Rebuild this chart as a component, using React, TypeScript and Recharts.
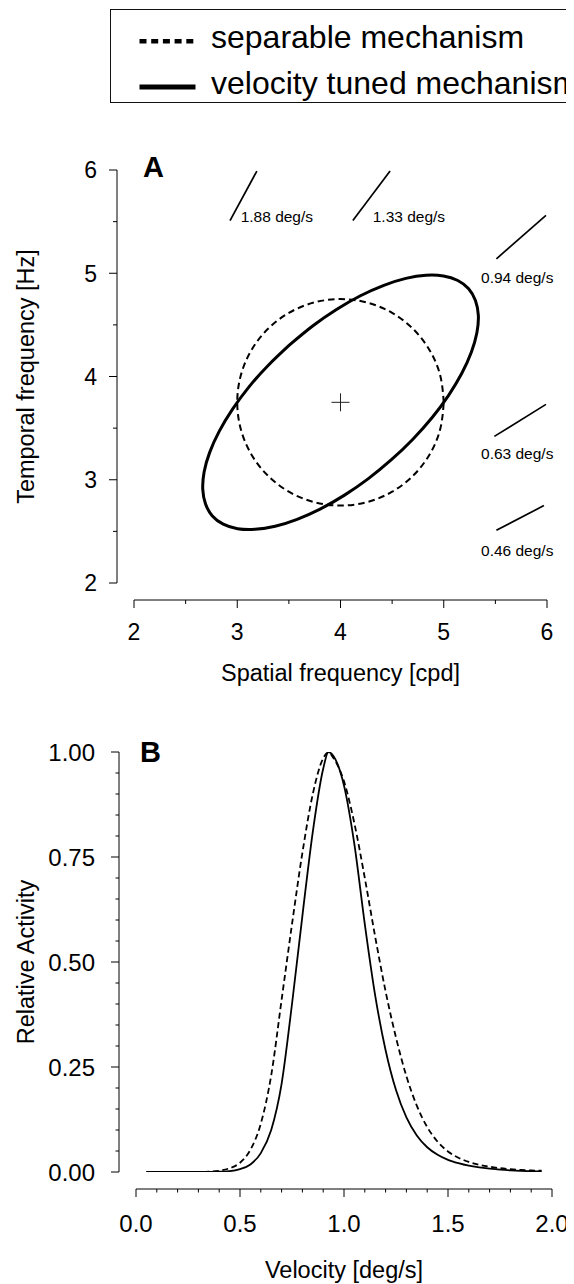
import React from 'react';
import {
  ComposedChart,
  Line,
  Scatter,
  XAxis,
  YAxis,
  ReferenceLine,
  ReferenceDot,
  Legend,
  Customized,
} from 'recharts';

const FONT = '"Liberation Sans", Arial, Helvetica, sans-serif';

// ---------- Panel A data ----------
const separableContour = [
  { x: 5.0, y: 3.75 }, { x: 4.966, y: 4.009 }, { x: 4.866, y: 4.25 }, { x: 4.707, y: 4.457 },
  { x: 4.5, y: 4.616 }, { x: 4.259, y: 4.716 }, { x: 4.0, y: 4.75 }, { x: 3.741, y: 4.716 },
  { x: 3.5, y: 4.616 }, { x: 3.293, y: 4.457 }, { x: 3.134, y: 4.25 }, { x: 3.034, y: 4.009 },
  { x: 3.0, y: 3.75 }, { x: 3.034, y: 3.491 }, { x: 3.134, y: 3.25 }, { x: 3.293, y: 3.043 },
  { x: 3.5, y: 2.884 }, { x: 3.741, y: 2.784 }, { x: 4.0, y: 2.75 }, { x: 4.259, y: 2.784 },
  { x: 4.5, y: 2.884 }, { x: 4.707, y: 3.043 }, { x: 4.866, y: 3.25 }, { x: 4.966, y: 3.491 },
  { x: 5.0, y: 3.75 },
];

const velocityTunedContour = [
  { x: 3.507, y: 4.306 }, { x: 3.299, y: 4.107 }, { x: 3.112, y: 3.897 }, { x: 2.953, y: 3.682 },
  { x: 2.825, y: 3.469 }, { x: 2.733, y: 3.265 }, { x: 2.679, y: 3.076 }, { x: 2.666, y: 2.907 },
  { x: 2.693, y: 2.764 }, { x: 2.759, y: 2.65 }, { x: 2.864, y: 2.57 }, { x: 3.003, y: 2.526 },
  { x: 3.172, y: 2.52 }, { x: 3.367, y: 2.55 }, { x: 3.58, y: 2.617 }, { x: 3.807, y: 2.718 },
  { x: 4.039, y: 2.851 }, { x: 4.27, y: 3.011 }, { x: 4.493, y: 3.194 }, { x: 4.701, y: 3.393 },
  { x: 4.888, y: 3.603 }, { x: 5.047, y: 3.818 }, { x: 5.175, y: 4.031 }, { x: 5.267, y: 4.235 },
  { x: 5.321, y: 4.424 }, { x: 5.335, y: 4.593 }, { x: 5.307, y: 4.736 }, { x: 5.241, y: 4.85 },
  { x: 5.136, y: 4.93 }, { x: 4.997, y: 4.974 }, { x: 4.828, y: 4.981 }, { x: 4.633, y: 4.95 },
  { x: 4.42, y: 4.883 }, { x: 4.193, y: 4.782 }, { x: 3.961, y: 4.649 }, { x: 3.73, y: 4.489 },
  { x: 3.507, y: 4.306 },
];

const preferredPoint = [{ x: 4.0, y: 3.75 }];

const velocityLabels = ['1.88 deg/s', '1.33 deg/s', '0.94 deg/s', '0.63 deg/s', '0.46 deg/s'];
const velocitySegments = [
  { x1: 2.93, y1: 5.51, x2: 3.19, y2: 5.99 },
  { x1: 4.12, y1: 5.51, x2: 4.48, y2: 5.99 },
  { x1: 5.51, y1: 5.14, x2: 5.99, y2: 5.56 },
  { x1: 5.49, y1: 3.42, x2: 5.99, y2: 3.73 },
  { x1: 5.51, y1: 2.51, x2: 5.97, y2: 2.75 },
];
const velocityLabelAnchors = [
  { x: 3.033, y: 5.499 },
  { x: 4.312, y: 5.493 },
  { x: 5.361, y: 4.908 },
  { x: 5.361, y: 3.198 },
  { x: 5.361, y: 2.262 },
];

const sfTicks = [2, 2.5, 3, 3.5, 4, 4.5, 5, 5.5, 6];
const tfTicks = [2, 2.5, 3, 3.5, 4, 4.5, 5, 5.5, 6];

// ---------- Panel B data ----------
const velocities = [
  0.05, 0.1, 0.15, 0.2, 0.25, 0.3, 0.35, 0.4, 0.45, 0.5, 0.55, 0.6, 0.65, 0.7, 0.75, 0.8, 0.85,
  0.9, 0.925, 0.95, 1.0, 1.05, 1.1, 1.15, 1.2, 1.25, 1.3, 1.35, 1.4, 1.45, 1.5, 1.55, 1.6, 1.65,
  1.7, 1.75, 1.8, 1.85, 1.9, 1.95,
];
const tunedActivity = [
  0, 0, 0, 0, 0, 0, 0, 0.0008, 0.002, 0.007, 0.018, 0.045, 0.1, 0.21, 0.4, 0.61, 0.81,
  0.96, 1.0, 0.99, 0.92, 0.78, 0.59, 0.42, 0.29, 0.195, 0.13, 0.087, 0.059, 0.041, 0.029, 0.021, 0.015,
  0.011, 0.008, 0.0055, 0.0038, 0.0026, 0.0018, 0.0012,
];
const separableActivity = [
  0, 0, 0, 0, 0, 0, 0.001, 0.003, 0.009, 0.022, 0.053, 0.115, 0.23, 0.41, 0.59, 0.76, 0.9,
  0.985, 0.999, 0.985, 0.93, 0.83, 0.7, 0.56, 0.43, 0.32, 0.228, 0.158, 0.107, 0.072, 0.049, 0.034, 0.024,
  0.017, 0.0125, 0.0092, 0.0068, 0.005, 0.0038, 0.003,
];
const velocityTicks = [
  0, 0.1, 0.2, 0.3, 0.4, 0.5, 0.6, 0.7, 0.8, 0.9, 1.0, 1.1, 1.2, 1.3, 1.4, 1.5, 1.6, 1.7, 1.8, 1.9, 2.0,
];
const activityTicks = [
  0, 0.05, 0.1, 0.15, 0.2, 0.25, 0.3, 0.35, 0.4, 0.45, 0.5, 0.55, 0.6, 0.65, 0.7, 0.75, 0.8, 0.85,
  0.9, 0.95, 1.0,
];

const SERIES_NAMES = { separable: 'separable mechanism', tuned: 'velocity tuned mechanism' };

const activityData = velocities.map((v, i) => ({
  v,
  sep: separableActivity[i],
  tuned: tunedActivity[i],
}));

const isMultiple = (v: number, step: number) => Math.abs(v / step - Math.round(v / step)) < 1e-6;

const makeYTick = (step: number, fmt: (v: number) => string, gap: number, minorLen: number, fs: number) => (props: any) => {
  const { x, y, payload } = props;
  const v = payload.value;
  const major = isMultiple(v, step);
  const len = major ? 8 : minorLen;
  return (
    <g>
      <line x1={x - len} y1={y} x2={x} y2={y} stroke="#000" strokeWidth={1} />
      {major && (
        <text x={x - gap} y={y} dy="0.36em" textAnchor="end" fontSize={fs} fontFamily={FONT} fill="#000">
          {fmt(v)}
        </text>
      )}
    </g>
  );
};

const makeXTick = (step: number, fmt: (v: number) => string, baseline: number, minorLen: number, fs: number) => (props: any) => {
  const { x, y, payload } = props;
  const v = payload.value;
  const major = isMultiple(v, step);
  const len = major ? 8 : minorLen;
  return (
    <g>
      <line x1={x} y1={y} x2={x} y2={y + len} stroke="#000" strokeWidth={1} />
      {major && (
        <text x={x} y={y + baseline} textAnchor="middle" fontSize={fs} fontFamily={FONT} fill="#000">
          {fmt(v)}
        </text>
      )}
    </g>
  );
};

const yTitle = (text: string, dx: number, fs: number) => (props: any) => {
  const vb = props.viewBox || {};
  const cx = vb.x + dx;
  const cy = vb.y + vb.height / 2;
  return (
    <text
      x={cx}
      y={cy}
      transform={`rotate(-90 ${cx} ${cy})`}
      textAnchor="middle"
      fontSize={fs}
      fontFamily={FONT}
      fill="#000"
    >
      {text}
    </text>
  );
};

const xTitle = (text: string, dy: number, fs: number) => (props: any) => {
  const vb = props.viewBox || {};
  return (
    <text x={vb.x + vb.width / 2} y={vb.y + dy} textAnchor="middle" fontSize={fs} fontFamily={FONT} fill="#000">
      {text}
    </text>
  );
};

const LegendBox = (props: any) => {
  const payload = (props.payload || []).filter((e: any) => e.type !== 'none');
  const rows = [
    { lineY: 31.2, base: 37.5 },
    { lineY: 77, base: 83.5 },
  ];
  return (
    <div
      style={{
        border: '1.5px solid #111',
        width: 520,
        height: 94,
        boxSizing: 'border-box',
        background: '#fff',
      }}
    >
      <svg width={517} height={91} style={{ display: 'block' }}>
        {payload.map((e: any, i: number) => {
          const dashed = e.value === SERIES_NAMES.separable;
          const r = rows[i] || rows[0];
          return (
            <g key={e.value}>
              <line
                x1={28.5}
                x2={84.5}
                y1={r.lineY}
                y2={r.lineY}
                stroke="#000"
                strokeWidth={dashed ? 4.5 : 5}
                strokeDasharray={dashed ? '7 4.7' : undefined}
              />
              <text x={100} y={r.base} fontSize={32} fontFamily={FONT} fill="#000">
                {e.value}
              </text>
            </g>
          );
        })}
      </svg>
    </div>
  );
};

const PanelLetter = ({ x, y, letter }: { x: number; y: number; letter: string }) => (
  <text x={x} y={y} fontSize={29} fontWeight="bold" fontFamily={FONT} fill="#000">
    {letter}
  </text>
);

export default function App() {
  return (
    <div style={{ width: 566, overflow: 'hidden', fontFamily: FONT, background: '#fff' }}>
      <style>{'html,body{overflow:hidden;background:#fff}'}</style>
      <ComposedChart width={566} height={682} margin={{ top: 162, right: 27, bottom: 0, left: 0 }}>
        <XAxis xAxisId="gap" type="number" domain={[0, 1]} height={17} axisLine={false} tickLine={false} tick={false} />
        <XAxis
          xAxisId="main"
          type="number"
          dataKey="x"
          domain={[2, 6]}
          allowDataOverflow
          ticks={sfTicks}
          interval={0}
          height={90}
          tickSize={0}
          tickMargin={0}
          tickLine={false}
          axisLine={{ stroke: '#000', strokeWidth: 1 }}
          tick={makeXTick(1, (v) => String(v), 40, 4, 23)}
          label={{ content: xTitle('Spatial frequency [cpd]', 81, 23.5) }}
        />
        <YAxis yAxisId="gap" type="number" domain={[0, 1]} width={17} axisLine={false} tickLine={false} tick={false} />
        <YAxis
          yAxisId="main"
          type="number"
          dataKey="y"
          domain={[2, 6]}
          allowDataOverflow
          ticks={tfTicks}
          interval={0}
          width={109}
          tickSize={0}
          tickMargin={0}
          tickLine={false}
          axisLine={{ stroke: '#000', strokeWidth: 1 }}
          tick={makeYTick(1, (v) => String(v), 20, 4, 23)}
          label={{ content: yTitle('Temporal frequency [Hz]', 26, 23.5) }}
        />
        <Legend
          layout="vertical"
          verticalAlign="middle"
          align="center"
          wrapperStyle={{ position: 'absolute', top: 1, left: 102, width: 'auto', height: 'auto', margin: 0, padding: 0 }}
          content={(p: any) => <LegendBox payload={p.payload} />}
        />
        <Line
          xAxisId="main"
          yAxisId="main"
          name={SERIES_NAMES.separable}
          data={separableContour}
          dataKey="y"
          type="natural"
          stroke="#000"
          strokeWidth={2}
          strokeDasharray="6.5 4"
          dot={false}
          activeDot={false}
          isAnimationActive={false}
        />
        <Line
          xAxisId="main"
          yAxisId="main"
          name={SERIES_NAMES.tuned}
          data={velocityTunedContour}
          dataKey="y"
          type="natural"
          stroke="#000"
          strokeWidth={3}
          dot={false}
          activeDot={false}
          isAnimationActive={false}
        />
        <Scatter
          xAxisId="main"
          yAxisId="main"
          data={preferredPoint}
          legendType="none"
          isAnimationActive={false}
          shape={(p: any) => (
            <g>
              <line x1={p.cx - 9} x2={p.cx + 9} y1={p.cy} y2={p.cy} stroke="#222" strokeWidth={1} />
              <line x1={p.cx} x2={p.cx} y1={p.cy - 9} y2={p.cy + 9} stroke="#222" strokeWidth={1} />
            </g>
          )}
        />
        {velocitySegments.map((s, i) => (
          <ReferenceLine
            key={`seg${i}`}
            xAxisId="main"
            yAxisId="main"
            segment={[
              { x: s.x1, y: s.y1 },
              { x: s.x2, y: s.y2 },
            ]}
            stroke="#000"
            strokeWidth={1.7}
            ifOverflow="visible"
          />
        ))}
        {velocityLabelAnchors.map((a, i) => (
          <ReferenceDot
            key={`lab${i}`}
            xAxisId="main"
            yAxisId="main"
            x={a.x}
            y={a.y}
            r={0}
            ifOverflow="visible"
            shape={(p: any) => (
              <text x={p.cx} y={p.cy} fontSize={15.5} fontFamily={FONT} fill="#000">
                {velocityLabels[i]}
              </text>
            )}
          />
        ))}
        <Customized component={() => <PanelLetter x={135} y={169} letter="A" />} />
      </ComposedChart>

      <ComposedChart width={566} height={599} data={activityData} margin={{ top: 62, right: 22, bottom: 0, left: 0 }}>
        <XAxis xAxisId="gap" type="number" domain={[0, 1]} height={17} axisLine={false} tickLine={false} tick={false} />
        <XAxis
          xAxisId="main"
          type="number"
          dataKey="v"
          domain={[0, 2]}
          allowDataOverflow
          ticks={velocityTicks}
          interval={0}
          height={100}
          tickSize={0}
          tickMargin={0}
          tickLine={false}
          axisLine={{ stroke: '#000', strokeWidth: 1 }}
          tick={makeXTick(0.5, (v) => v.toFixed(1), 42.5, 3.5, 24)}
          label={{ content: xTitle('Velocity [deg/s]', 89, 23.5) }}
        />
        <YAxis yAxisId="gap" type="number" domain={[0, 1]} width={17} axisLine={false} tickLine={false} tick={false} />
        <YAxis
          yAxisId="main"
          type="number"
          domain={[0, 1]}
          allowDataOverflow
          ticks={activityTicks}
          interval={0}
          width={111}
          tickSize={0}
          tickMargin={0}
          tickLine={false}
          axisLine={{ stroke: '#000', strokeWidth: 1 }}
          tick={makeYTick(0.25, (v) => v.toFixed(2), 24, 3.5, 24)}
          label={{ content: yTitle('Relative Activity', 26, 23.5) }}
        />
        <Line
          xAxisId="main"
          yAxisId="main"
          name={SERIES_NAMES.separable}
          dataKey="sep"
          type="monotone"
          stroke="#000"
          strokeWidth={1.8}
          strokeDasharray="6 3.5"
          dot={false}
          activeDot={false}
          isAnimationActive={false}
        />
        <Line
          xAxisId="main"
          yAxisId="main"
          name={SERIES_NAMES.tuned}
          dataKey="tuned"
          type="monotone"
          stroke="#000"
          strokeWidth={1.8}
          dot={false}
          activeDot={false}
          isAnimationActive={false}
        />
        <Customized component={() => <PanelLetter x={132} y={72} letter="B" />} />
      </ComposedChart>
    </div>
  );
}
